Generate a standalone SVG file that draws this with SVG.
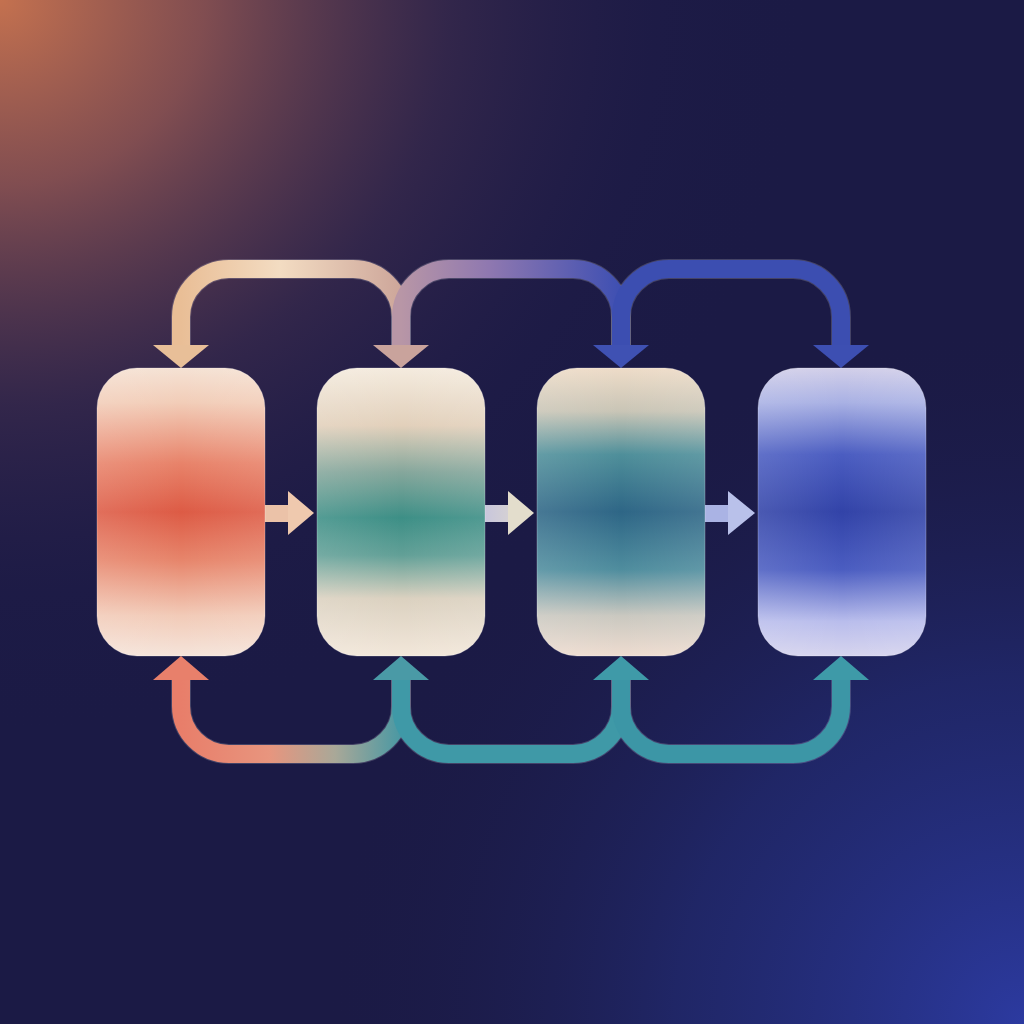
<svg xmlns="http://www.w3.org/2000/svg" width="1024" height="1024" viewBox="0 0 1024 1024">
  <defs>
    <radialGradient id="bgWarm" cx="0" cy="0" r="780" gradientUnits="userSpaceOnUse" gradientTransform="translate(0,0) scale(1.05,0.95)">
      <stop offset="0" stop-color="#c4714f"/>
      <stop offset="0.25" stop-color="#8c5352" stop-opacity="0.9"/>
      <stop offset="0.55" stop-color="#45304f" stop-opacity="0.55"/>
      <stop offset="0.8" stop-color="#261f4a" stop-opacity="0.2"/>
      <stop offset="1" stop-color="#1b1a45" stop-opacity="0"/>
    </radialGradient>
    <radialGradient id="bgCool" cx="1024" cy="1024" r="700" gradientUnits="userSpaceOnUse">
      <stop offset="0" stop-color="#2c3aa0"/>
      <stop offset="0.5" stop-color="#232e7c" stop-opacity="0.6"/>
      <stop offset="1" stop-color="#1b1a45" stop-opacity="0"/>
    </radialGradient>
    <linearGradient id="n1" x1="0" y1="0" x2="0" y2="1">
      <stop offset="0" stop-color="#f5e2d4"/>
      <stop offset="0.12" stop-color="#f2cdb8"/>
      <stop offset="0.33" stop-color="#e8836a"/>
      <stop offset="0.5" stop-color="#dd5b45"/>
      <stop offset="0.67" stop-color="#e7866c"/>
      <stop offset="0.86" stop-color="#f2cbb8"/>
      <stop offset="1" stop-color="#f5e4da"/>
    </linearGradient>
    <linearGradient id="n2" x1="0" y1="0" x2="0" y2="1">
      <stop offset="0" stop-color="#f4ebde"/>
      <stop offset="0.2" stop-color="#e2d0bb"/>
      <stop offset="0.36" stop-color="#86a79c"/>
      <stop offset="0.52" stop-color="#3d8f86"/>
      <stop offset="0.65" stop-color="#62a097"/>
      <stop offset="0.8" stop-color="#dbd1c0"/>
      <stop offset="1" stop-color="#f2e7da"/>
    </linearGradient>
    <linearGradient id="n3" x1="0" y1="0" x2="0" y2="1">
      <stop offset="0" stop-color="#eedcc8"/>
      <stop offset="0.15" stop-color="#c9c5b6"/>
      <stop offset="0.3" stop-color="#4f8f9a"/>
      <stop offset="0.5" stop-color="#2e6686"/>
      <stop offset="0.7" stop-color="#4f8d9e"/>
      <stop offset="0.86" stop-color="#cac8c0"/>
      <stop offset="1" stop-color="#eedcd0"/>
    </linearGradient>
    <linearGradient id="n4" x1="0" y1="0" x2="0" y2="1">
      <stop offset="0" stop-color="#d2cfe9"/>
      <stop offset="0.12" stop-color="#a9b1e4"/>
      <stop offset="0.3" stop-color="#4b5dc1"/>
      <stop offset="0.5" stop-color="#3243a8"/>
      <stop offset="0.7" stop-color="#4b5dc1"/>
      <stop offset="0.88" stop-color="#b9bdec"/>
      <stop offset="1" stop-color="#d6d4ee"/>
    </linearGradient>
    <linearGradient id="sideSheen" x1="0" y1="0" x2="1" y2="0">
      <stop offset="0" stop-color="#ffffff" stop-opacity="0.12"/>
      <stop offset="0.5" stop-color="#ffffff" stop-opacity="0"/>
      <stop offset="1" stop-color="#ffffff" stop-opacity="0.1"/>
    </linearGradient>
    <linearGradient id="t1" x1="181" y1="0" x2="401" y2="0" gradientUnits="userSpaceOnUse">
      <stop offset="0" stop-color="#e9be96"/>
      <stop offset="0.45" stop-color="#f3dcc2"/>
      <stop offset="1" stop-color="#cda69a"/>
    </linearGradient>
    <linearGradient id="t2" x1="401" y1="0" x2="621" y2="0" gradientUnits="userSpaceOnUse">
      <stop offset="0" stop-color="#b896a6"/>
      <stop offset="0.4" stop-color="#8f78b0"/>
      <stop offset="1" stop-color="#3e4fb2"/>
    </linearGradient>
    <linearGradient id="b1" x1="181" y1="0" x2="401" y2="0" gradientUnits="userSpaceOnUse">
      <stop offset="0" stop-color="#e87e6a"/>
      <stop offset="0.4" stop-color="#e8957e"/>
      <stop offset="0.7" stop-color="#a9a898"/>
      <stop offset="1" stop-color="#4a98a3"/>
    </linearGradient>
    <linearGradient id="a2" x1="485" y1="0" x2="535" y2="0" gradientUnits="userSpaceOnUse">
      <stop offset="0" stop-color="#c8c6dc"/>
      <stop offset="1" stop-color="#e2dccb"/>
    </linearGradient>
    <style>
      .conn { fill: none; stroke-width: 18; stroke-linejoin: round; }
      .edge { fill: none; stroke: #ffffff; stroke-opacity: 0.18; stroke-width: 20; }
      .node { stroke: #ffffff; stroke-opacity: 0.25; stroke-width: 1; }
    </style>
  </defs>

  <rect x="0" y="0" width="1024" height="1024" fill="#1b1a45"/>
  <rect x="0" y="0" width="1024" height="1024" fill="url(#bgWarm)"/>
  <rect x="0" y="0" width="1024" height="1024" fill="url(#bgCool)"/>

  <g id="connectors">
    <!-- top arcs -->
    <path class="edge" d="M181,346 V317 A48,48 0 0 1 229,269 H353 A48,48 0 0 1 401,317 V346"/>
    <path class="edge" d="M401,346 V317 A48,48 0 0 1 449,269 H573 A48,48 0 0 1 621,317 V346"/>
    <path class="edge" d="M621,346 V317 A48,48 0 0 1 669,269 H793 A48,48 0 0 1 841,317 V346"/>
    <path class="conn" stroke="url(#t1)" d="M181,346 V317 A48,48 0 0 1 229,269 H353 A48,48 0 0 1 401,317 V346"/>
    <path class="conn" stroke="url(#t2)" d="M401,346 V317 A48,48 0 0 1 449,269 H573 A48,48 0 0 1 621,317 V346"/>
    <path class="conn" stroke="#3c4eb1" d="M621,346 V317 A48,48 0 0 1 669,269 H793 A48,48 0 0 1 841,317 V346"/>
    <polygon points="153,345 209,345 181,368" fill="#e8bf98"/>
    <polygon points="373,345 429,345 401,368" fill="#c9a39c"/>
    <polygon points="593,345 649,345 621,368" fill="#3f51b3"/>
    <polygon points="813,345 869,345 841,368" fill="#3d4fb2"/>

    <!-- bottom arcs -->
    <path class="edge" d="M181,679 V706 A48,48 0 0 0 229,754 H353 A48,48 0 0 0 401,706 V679"/>
    <path class="edge" d="M401,679 V706 A48,48 0 0 0 449,754 H573 A48,48 0 0 0 621,706 V679"/>
    <path class="edge" d="M621,679 V706 A48,48 0 0 0 669,754 H793 A48,48 0 0 0 841,706 V679"/>
    <path class="conn" stroke="url(#b1)" d="M181,679 V706 A48,48 0 0 0 229,754 H353 A48,48 0 0 0 401,706 V679"/>
    <path class="conn" stroke="#3f99a7" d="M401,679 V706 A48,48 0 0 0 449,754 H573 A48,48 0 0 0 621,706 V679"/>
    <path class="conn" stroke="#3c96a6" d="M621,679 V706 A48,48 0 0 0 669,754 H793 A48,48 0 0 0 841,706 V679"/>
    <polygon points="153,680 209,680 181,656" fill="#e8806b"/>
    <polygon points="373,680 429,680 401,656" fill="#4a9aa6"/>
    <polygon points="593,680 649,680 621,656" fill="#3f9aa8"/>
    <polygon points="813,680 869,680 841,656" fill="#3e9aa8"/>

    <!-- middle arrows -->
    <rect x="265" y="505" width="24" height="17" fill="#ebc2a8"/>
    <polygon points="288,491 314,513 288,535" fill="#efc9ae"/>
    <rect x="485" y="505" width="24" height="17" fill="url(#a2)"/>
    <polygon points="508,491 534,513 508,535" fill="#e3ddcc"/>
    <rect x="705" y="505" width="24" height="17" fill="#aab3e4"/>
    <polygon points="728,491 755,513 728,535" fill="#b9c1ea"/>
  </g>

  <g id="node1">
    <rect class="node" x="97" y="368" width="168" height="288" rx="40" fill="url(#n1)"/>
    <rect x="97" y="368" width="168" height="288" rx="40" fill="url(#sideSheen)"/>
  </g>
  <g id="node2">
    <rect class="node" x="317" y="368" width="168" height="288" rx="40" fill="url(#n2)"/>
    <rect x="317" y="368" width="168" height="288" rx="40" fill="url(#sideSheen)"/>
  </g>
  <g id="node3">
    <rect class="node" x="537" y="368" width="168" height="288" rx="40" fill="url(#n3)"/>
    <rect x="537" y="368" width="168" height="288" rx="40" fill="url(#sideSheen)"/>
  </g>
  <g id="node4">
    <rect class="node" x="758" y="368" width="168" height="288" rx="40" fill="url(#n4)"/>
    <rect x="758" y="368" width="168" height="288" rx="40" fill="url(#sideSheen)"/>
  </g>
</svg>
